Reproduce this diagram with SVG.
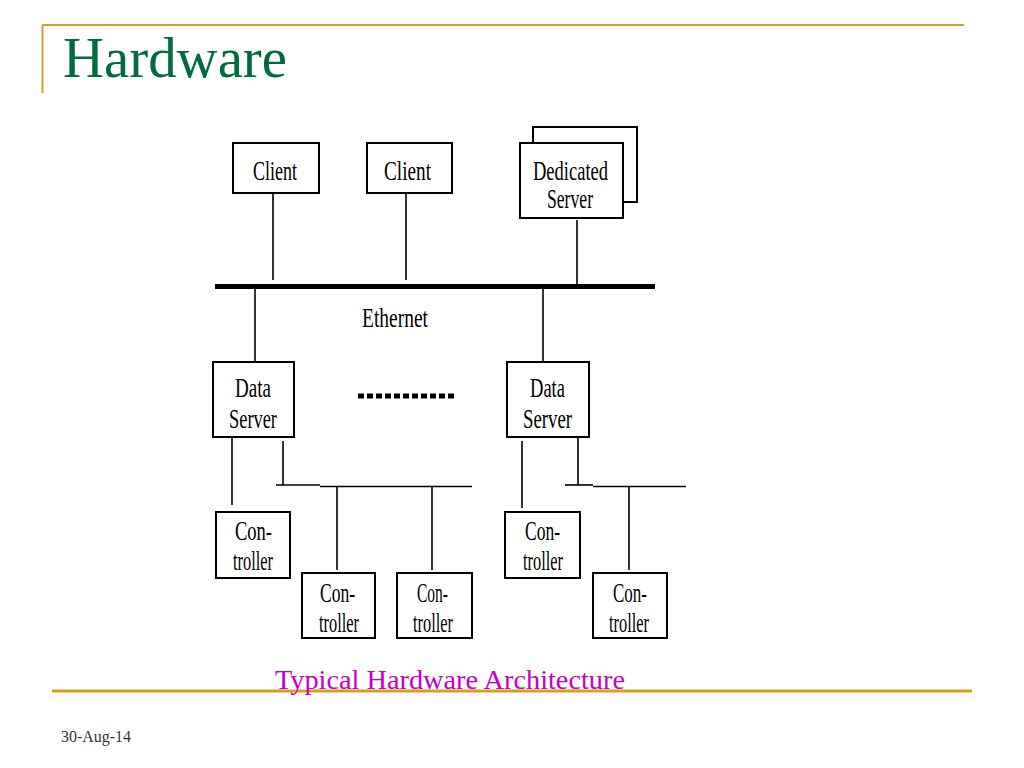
<svg xmlns="http://www.w3.org/2000/svg" width="1024" height="768" viewBox="0 0 1024 768">
<style>
.box{fill:#fff;stroke:#000;stroke-width:2}
.ln{stroke:#000;stroke-width:1.6;fill:none}
.t{font-family:"Liberation Serif","Times New Roman",serif;font-size:27px;fill:#000}
.gold{stroke:#D4A020;fill:none}
</style>
<rect width="1024" height="768" fill="#fff"/>
<g id="frame">
<line class="gold" x1="42" y1="25" x2="964" y2="25" stroke-width="2"/>
<line class="gold" x1="42.5" y1="25" x2="42.5" y2="93" stroke-width="2"/>
<line class="gold" x1="52" y1="691" x2="972" y2="691" stroke-width="3"/>
<text x="63" y="77" font-family="Liberation Serif,serif" font-size="56" fill="#006b3c" textLength="224" lengthAdjust="spacingAndGlyphs">Hardware</text>
<text x="61" y="742" font-family="Liberation Serif,serif" font-size="16" fill="#333" textLength="70" lengthAdjust="spacingAndGlyphs">30-Aug-14</text>
<text x="275" y="689" font-family="Liberation Serif,serif" font-size="27" fill="#C400C4" textLength="350" lengthAdjust="spacingAndGlyphs">Typical Hardware Architecture</text>
</g>
<g id="connectors">
<line x1="215" y1="286.5" x2="655" y2="286.5" stroke="#000" stroke-width="5"/>
<line class="ln" x1="273" y1="193" x2="273" y2="280"/>
<line class="ln" x1="406" y1="193" x2="406" y2="280"/>
<line class="ln" x1="577" y1="220" x2="577" y2="284"/>
<line class="ln" x1="255" y1="284" x2="255" y2="362"/>
<line class="ln" x1="543" y1="284" x2="543" y2="362"/>
<line x1="358" y1="396" x2="456" y2="396" stroke="#000" stroke-width="5" stroke-dasharray="6,3"/>
<line class="ln" x1="232" y1="437" x2="232" y2="505"/>
<line class="ln" x1="283" y1="441" x2="283" y2="485"/>
<line class="ln" x1="276" y1="485" x2="320" y2="485"/>
<line class="ln" x1="320" y1="486.5" x2="472" y2="486.5"/>
<line class="ln" x1="337" y1="487" x2="337" y2="570"/>
<line class="ln" x1="432" y1="487" x2="432" y2="570"/>
<line class="ln" x1="522" y1="441" x2="522" y2="508"/>
<line class="ln" x1="578" y1="437" x2="578" y2="485"/>
<line class="ln" x1="565" y1="485" x2="593" y2="485"/>
<line class="ln" x1="593" y1="486.5" x2="686" y2="486.5"/>
<line class="ln" x1="629" y1="487" x2="629" y2="570"/>
<text class="t" x="362" y="327" textLength="66" lengthAdjust="spacingAndGlyphs">Ethernet</text>
</g>
<g id="client1">
<rect class="box" x="233" y="143" width="86" height="50"/>
<text class="t" x="253" y="180" textLength="44" lengthAdjust="spacingAndGlyphs">Client</text>
</g>
<g id="client2">
<rect class="box" x="367" y="143" width="85" height="50"/>
<text class="t" x="384" y="180" textLength="47" lengthAdjust="spacingAndGlyphs">Client</text>
</g>
<g id="dedicated-server">
<rect class="box" x="533" y="127" width="104" height="75"/>
<rect class="box" x="520" y="143" width="103" height="75"/>
<text class="t" x="533" y="180" textLength="75" lengthAdjust="spacingAndGlyphs">Dedicated</text>
<text class="t" x="547" y="208" textLength="46" lengthAdjust="spacingAndGlyphs">Server</text>
</g>
<g id="data-server1">
<rect class="box" x="213" y="362" width="81" height="75"/>
<text class="t" x="235" y="397" textLength="36" lengthAdjust="spacingAndGlyphs">Data</text>
<text class="t" x="229" y="428" textLength="48" lengthAdjust="spacingAndGlyphs">Server</text>
</g>
<g id="data-server2">
<rect class="box" x="507" y="362" width="82" height="75"/>
<text class="t" x="530" y="397" textLength="35" lengthAdjust="spacingAndGlyphs">Data</text>
<text class="t" x="523" y="428" textLength="49" lengthAdjust="spacingAndGlyphs">Server</text>
</g>
<g id="controller1">
<rect class="box" x="216" y="512" width="74" height="66"/>
<text class="t" x="235" y="540" textLength="37" lengthAdjust="spacingAndGlyphs">Con-</text>
<text class="t" x="233" y="570" textLength="40" lengthAdjust="spacingAndGlyphs">troller</text>
</g>
<g id="controller2">
<rect class="box" x="302" y="573" width="73" height="65"/>
<text class="t" x="320" y="602" textLength="35" lengthAdjust="spacingAndGlyphs">Con-</text>
<text class="t" x="319" y="632" textLength="40" lengthAdjust="spacingAndGlyphs">troller</text>
</g>
<g id="controller3">
<rect class="box" x="397" y="573" width="75" height="65"/>
<text class="t" x="417" y="602" textLength="31" lengthAdjust="spacingAndGlyphs">Con-</text>
<text class="t" x="413" y="632" textLength="40" lengthAdjust="spacingAndGlyphs">troller</text>
</g>
<g id="controller4">
<rect class="box" x="505" y="512" width="75" height="66"/>
<text class="t" x="525" y="540" textLength="35" lengthAdjust="spacingAndGlyphs">Con-</text>
<text class="t" x="523" y="570" textLength="40" lengthAdjust="spacingAndGlyphs">troller</text>
</g>
<g id="controller5">
<rect class="box" x="593" y="573" width="74" height="65"/>
<text class="t" x="613" y="602" textLength="34" lengthAdjust="spacingAndGlyphs">Con-</text>
<text class="t" x="609" y="632" textLength="40" lengthAdjust="spacingAndGlyphs">troller</text>
</g>
</svg>
